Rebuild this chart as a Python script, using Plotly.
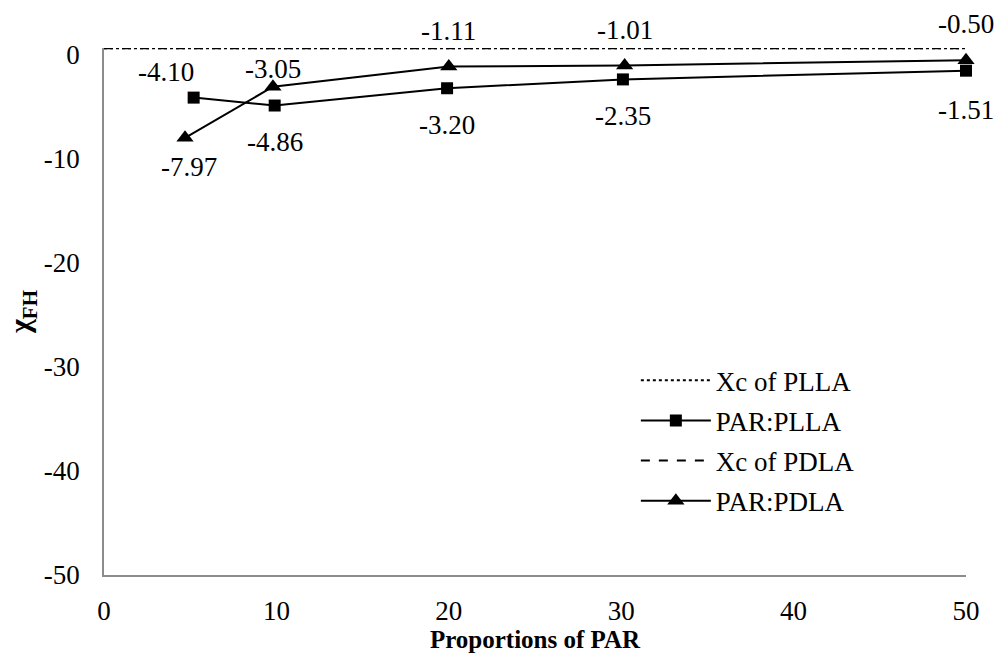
import plotly.graph_objects as go

# data
plla_x = [5.2, 9.9, 19.9, 30.1, 50]
plla_y = [-4.10, -4.86, -3.20, -2.35, -1.51]
pdla_x = [4.7, 9.8, 20.0, 30.2, 50]
pdla_y = [-7.97, -3.05, -1.11, -1.01, -0.50]
xc_x = [0, 50]
xc_plla = [0.65, 0.65]
xc_pdla = [0.65, 0.65]
x_ticks = [0, 10, 20, 30, 40, 50]
y_ticks = [0, -10, -20, -30, -40, -50]
y_tick_text = ["0", "-10", "-20", "-30", "-40", "-50"]

# label offsets (pixels) for data labels
plla_shift = [(-28, 26), (0, -36), (0, -37), (0, -37), (0, -39)]
pdla_shift = [(4, -29), (0, 18), (0, 36), (0, 35), (0, 36)]

FONT = "Liberation Serif, Times New Roman, serif"
FS = 27
fig = go.Figure()

fig.add_trace(go.Scatter(x=xc_x, y=xc_plla, mode="lines", name="Xc of PLLA",
                         line=dict(color="black", width=2, dash="dot"),
                         legendgroup="a", cliponaxis=False))
fig.add_trace(go.Scatter(x=plla_x, y=plla_y, mode="lines+markers", name="PAR:PLLA",
                         line=dict(color="black", width=2),
                         marker=dict(symbol="square", size=12, color="black"),
                         legendgroup="b", cliponaxis=False))
fig.add_trace(go.Scatter(x=xc_x, y=xc_pdla, mode="lines", name="Xc of PDLA",
                         line=dict(color="black", width=2, dash="dash"),
                         legendgroup="c", cliponaxis=False))
fig.add_trace(go.Scatter(x=pdla_x, y=pdla_y, mode="lines+markers", name="PAR:PDLA",
                         line=dict(color="black", width=2),
                         marker=dict(symbol="triangle-up", size=15, color="black"),
                         legendgroup="d", cliponaxis=False))

for xs, ys, shifts in [(plla_x, plla_y, plla_shift), (pdla_x, pdla_y, pdla_shift)]:
    for xv, yv, (dx, dy) in zip(xs, ys, shifts):
        fig.add_annotation(x=xv, y=yv, text=f"{yv:.2f}", showarrow=False,
                           xshift=dx, yshift=dy,
                           font=dict(family=FONT, size=FS, color="black"))

fig.update_layout(
    width=1000, height=658,
    margin=dict(l=104, r=34, t=48, b=83),
    paper_bgcolor="white", plot_bgcolor="white",
    font=dict(family=FONT, size=FS, color="black"),
    showlegend=True,
    legend=dict(x=0.617, y=0.415, xanchor="left", yanchor="top",
                bgcolor="rgba(0,0,0,0)", itemwidth=70,
                traceorder="grouped", tracegroupgap=2,
                font=dict(family=FONT, size=FS, color="black")),
    xaxis=dict(range=[0, 50], tickvals=x_ticks, showgrid=False, zeroline=False,
               showline=True, linecolor="#8c8c8c", linewidth=1.5,
               ticks="", ticklabelstandoff=11, automargin=False,
               tickfont=dict(family=FONT, size=FS),
               title=dict(text="<b>Proportions of PAR</b>", standoff=0,
                          font=dict(family=FONT, size=25))),
    yaxis=dict(range=[-50, 0.67], tickvals=y_ticks, ticktext=y_tick_text,
               showgrid=False, zeroline=False,
               showline=True, linecolor="#8c8c8c", linewidth=1.5,
               ticks="", ticklabelstandoff=17, automargin=False,
               tickfont=dict(family=FONT, size=FS),
               title=dict(text="<b>χ<sub>FH</sub></b>", standoff=4,
                          font=dict(family=FONT, size=30))),
)

fig.write_html("out.html", config={"displayModeBar": False},
               post_script="document.body.style.margin='0px';")
